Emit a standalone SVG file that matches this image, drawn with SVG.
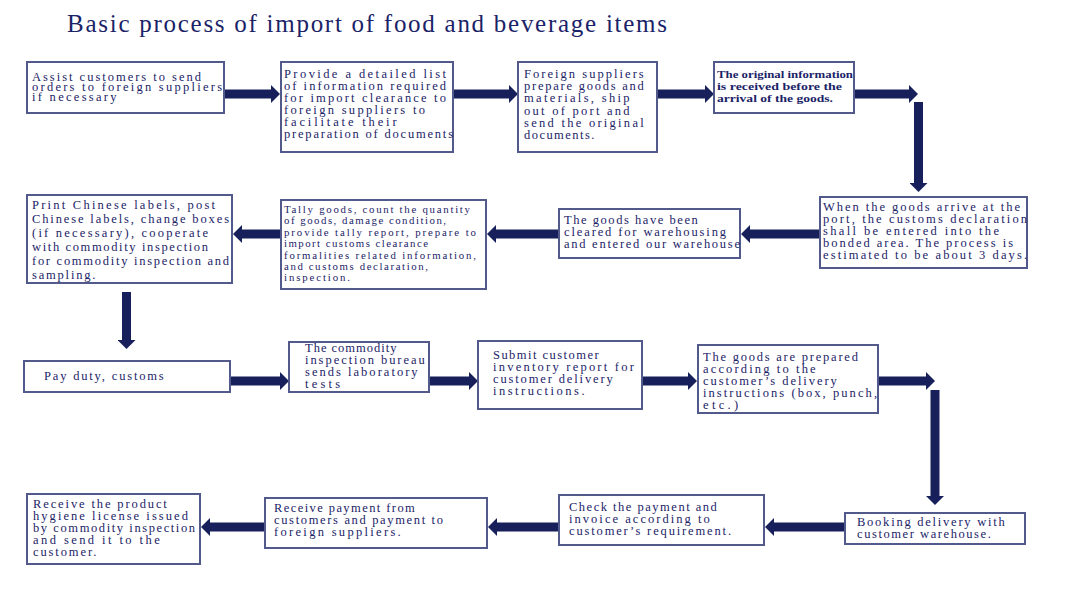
<svg xmlns="http://www.w3.org/2000/svg" width="1084" height="614" viewBox="0 0 1084 614">
<style>
.box{fill:#ffffff;stroke:#525a8b;stroke-width:2}
.t{font-family:"Liberation Serif","DejaVu Serif",serif;font-size:12.5px;fill:#1b2367}
.s{font-family:"Liberation Serif","DejaVu Serif",serif;font-size:10.8px;fill:#1b2367}
.b{font-family:"Liberation Serif","DejaVu Serif",serif;font-size:10.5px;font-weight:bold;fill:#1b2367}
.title{font-family:"Liberation Serif","DejaVu Serif",serif;font-size:25px;fill:#1b2367}
.c{stroke:#17205a;stroke-width:9;fill:none;marker-end:url(#ah)}
</style>
<defs>
<marker id="ah" markerUnits="userSpaceOnUse" viewBox="0 0 9 18" markerWidth="9" markerHeight="18" refX="0" refY="9" orient="auto">
<path d="M0,0 L9,9 L0,18 z" fill="#17205a"/>
</marker>
</defs>
<rect width="1084" height="614" fill="#ffffff"/>
<text class="title" x="67" y="32" textLength="600" lengthAdjust="spacing">Basic process of import of food and beverage items</text>

<g id="connectors">
<line class="c" x1="224" y1="94" x2="271" y2="94"/>
<line class="c" x1="453" y1="94" x2="509" y2="94"/>
<line class="c" x1="657" y1="94" x2="705" y2="94"/>
<line class="c" x1="854" y1="94" x2="909" y2="94"/>
<line class="c" x1="918.5" y1="102" x2="918.5" y2="183"/>
<line class="c" x1="820" y1="234" x2="750" y2="234"/>
<line class="c" x1="559" y1="234" x2="496" y2="234"/>
<line class="c" x1="281" y1="234" x2="242" y2="234"/>
<line class="c" x1="126.5" y1="292" x2="126.5" y2="340"/>
<line class="c" x1="230" y1="381" x2="280" y2="381"/>
<line class="c" x1="429" y1="381" x2="469" y2="381"/>
<line class="c" x1="642" y1="381" x2="688" y2="381"/>
<line class="c" x1="878" y1="381" x2="926" y2="381"/>
<line class="c" x1="935" y1="390" x2="935" y2="496"/>
<line class="c" x1="845" y1="527" x2="774" y2="527"/>
<line class="c" x1="559" y1="527" x2="497" y2="527"/>
<line class="c" x1="265" y1="527" x2="210" y2="527"/>
</g>

<g id="n1">
<rect class="box" x="27" y="62" width="197" height="51"/>
<text class="t" x="32" y="80.5" textLength="169" lengthAdjust="spacing">Assist customers to send</text>
<text class="t" x="32" y="90.5" textLength="190" lengthAdjust="spacing">orders to foreign suppliers</text>
<text class="t" x="32" y="100.5" textLength="84.5" lengthAdjust="spacing">if necessary</text>
</g>
<g id="n2">
<rect class="box" x="281" y="62" width="172" height="90"/>
<text class="t" x="284" y="78" textLength="162" lengthAdjust="spacing">Provide a detailed list</text>
<text class="t" x="284" y="90" textLength="162" lengthAdjust="spacing">of information required</text>
<text class="t" x="284" y="102" textLength="162" lengthAdjust="spacing">for import clearance to</text>
<text class="t" x="284" y="114" textLength="141" lengthAdjust="spacing">foreign suppliers to</text>
<text class="t" x="284" y="126" textLength="112.6" lengthAdjust="spacing">facilitate their</text>
<text class="t" x="284" y="138" textLength="169" lengthAdjust="spacing">preparation of documents</text>
</g>
<g id="n3">
<rect class="box" x="518" y="62" width="139" height="90"/>
<text class="t" x="524" y="78" textLength="119.7" lengthAdjust="spacing">Foreign suppliers</text>
<text class="t" x="524" y="90.2" textLength="119.7" lengthAdjust="spacing">prepare goods and</text>
<text class="t" x="524" y="102.4" textLength="105.6" lengthAdjust="spacing">materials, ship</text>
<text class="t" x="524" y="114.6" textLength="105.6" lengthAdjust="spacing">out of port and</text>
<text class="t" x="524" y="126.8" textLength="119.7" lengthAdjust="spacing">send the original</text>
<text class="t" x="524" y="139" textLength="70.4" lengthAdjust="spacing">documents.</text>
</g>
<g id="n4">
<rect class="box" x="714" y="62" width="140" height="51"/>
<text class="b" x="717" y="78" textLength="136" lengthAdjust="spacingAndGlyphs">The original information</text>
<text class="b" x="717" y="90" textLength="125" lengthAdjust="spacingAndGlyphs">is received before the</text>
<text class="b" x="717" y="102" textLength="116" lengthAdjust="spacingAndGlyphs">arrival of the goods.</text>
</g>
<g id="n5">
<rect class="box" x="820" y="197" width="207" height="71"/>
<text class="t" x="823" y="211" textLength="197" lengthAdjust="spacing">When the goods arrive at the</text>
<text class="t" x="823" y="223" textLength="204" lengthAdjust="spacing">port, the customs declaration</text>
<text class="t" x="823" y="235" textLength="176" lengthAdjust="spacing">shall be entered into the</text>
<text class="t" x="823" y="247" textLength="190" lengthAdjust="spacing">bonded area. The process is</text>
<text class="t" x="823" y="259" textLength="204" lengthAdjust="spacing">estimated to be about 3 days.</text>
</g>
<g id="n6">
<rect class="box" x="559" y="209" width="181" height="49"/>
<text class="t" x="564" y="224" textLength="133.8" lengthAdjust="spacing">The goods have been</text>
<text class="t" x="564" y="236" textLength="162" lengthAdjust="spacing">cleared for warehousing</text>
<text class="t" x="564" y="248" textLength="176" lengthAdjust="spacing">and entered our warehouse</text>
</g>
<g id="n7">
<rect class="box" x="281" y="200" width="205" height="89"/>
<text class="s" x="284" y="213" textLength="186" lengthAdjust="spacing">Tally goods, count the quantity</text>
<text class="s" x="284" y="224.4" textLength="162" lengthAdjust="spacing">of goods, damage condition,</text>
<text class="s" x="284" y="235.8" textLength="192" lengthAdjust="spacing">provide tally report, prepare to</text>
<text class="s" x="284" y="247.2" textLength="144" lengthAdjust="spacing">import customs clearance</text>
<text class="s" x="284" y="258.6" textLength="192" lengthAdjust="spacing">formalities related information,</text>
<text class="s" x="284" y="270" textLength="144" lengthAdjust="spacing">and customs declaration,</text>
<text class="s" x="284" y="281.4" textLength="66" lengthAdjust="spacing">inspection.</text>
</g>
<g id="n8">
<rect class="box" x="27" y="195" width="205" height="88"/>
<text class="t" x="32" y="209" textLength="183" lengthAdjust="spacing">Print Chinese labels, post</text>
<text class="t" x="32" y="223" textLength="197" lengthAdjust="spacing">Chinese labels, change boxes</text>
<text class="t" x="32" y="237" textLength="176" lengthAdjust="spacing">(if necessary), cooperate</text>
<text class="t" x="32" y="251" textLength="176" lengthAdjust="spacing">with commodity inspection</text>
<text class="t" x="32" y="265" textLength="197" lengthAdjust="spacing">for commodity inspection and</text>
<text class="t" x="32" y="279" textLength="63.4" lengthAdjust="spacing">sampling.</text>
</g>
<g id="n9">
<rect class="box" x="24" y="361" width="206" height="31"/>
<text class="t" x="44" y="380" textLength="119.7" lengthAdjust="spacing">Pay duty, customs</text>
</g>
<g id="n10">
<rect class="box" x="289" y="342" width="140" height="50"/>
<text class="t" x="305" y="352" textLength="91.5" lengthAdjust="spacing">The commodity</text>
<text class="t" x="305" y="364" textLength="119.7" lengthAdjust="spacing">inspection bureau</text>
<text class="t" x="305" y="376" textLength="112.6" lengthAdjust="spacing">sends laboratory</text>
<text class="t" x="305" y="388" textLength="35.2" lengthAdjust="spacing">tests</text>
</g>
<g id="n11">
<rect class="box" x="478" y="341" width="164" height="68"/>
<text class="t" x="493" y="359" textLength="105.6" lengthAdjust="spacing">Submit customer</text>
<text class="t" x="493" y="371" textLength="140.8" lengthAdjust="spacing">inventory report for</text>
<text class="t" x="493" y="383" textLength="119.7" lengthAdjust="spacing">customer delivery</text>
<text class="t" x="493" y="395" textLength="91.5" lengthAdjust="spacing">instructions.</text>
</g>
<g id="n12">
<rect class="box" x="698" y="345" width="180" height="68"/>
<text class="t" x="703" y="361" textLength="154.9" lengthAdjust="spacing">The goods are prepared</text>
<text class="t" x="703" y="373" textLength="112.6" lengthAdjust="spacing">according to the</text>
<text class="t" x="703" y="385" textLength="133.8" lengthAdjust="spacing">customer’s delivery</text>
<text class="t" x="703" y="397" textLength="174" lengthAdjust="spacing">instructions (box, punch,</text>
<text class="t" x="703" y="409" textLength="35.2" lengthAdjust="spacing">etc.)</text>
</g>
<g id="n13">
<rect class="box" x="845" y="513" width="180" height="31"/>
<text class="t" x="857" y="526" textLength="147.8" lengthAdjust="spacing">Booking delivery with</text>
<text class="t" x="857" y="538" textLength="133.8" lengthAdjust="spacing">customer warehouse.</text>
</g>
<g id="n14">
<rect class="box" x="559" y="495" width="205" height="50"/>
<text class="t" x="569" y="511" textLength="147.8" lengthAdjust="spacing">Check the payment and</text>
<text class="t" x="569" y="523" textLength="140.8" lengthAdjust="spacing">invoice according to</text>
<text class="t" x="569" y="535" textLength="162" lengthAdjust="spacing">customer’s requirement.</text>
</g>
<g id="n15">
<rect class="box" x="265" y="498" width="222" height="50"/>
<text class="t" x="274" y="512" textLength="140.8" lengthAdjust="spacing">Receive payment from</text>
<text class="t" x="274" y="524" textLength="169" lengthAdjust="spacing">customers and payment to</text>
<text class="t" x="274" y="536" textLength="126.7" lengthAdjust="spacing">foreign suppliers.</text>
</g>
<g id="n16">
<rect class="box" x="27" y="494" width="173" height="70"/>
<text class="t" x="33" y="508" textLength="133.8" lengthAdjust="spacing">Receive the product</text>
<text class="t" x="33" y="520" textLength="154.9" lengthAdjust="spacing">hygiene license issued</text>
<text class="t" x="33" y="532" textLength="162" lengthAdjust="spacing">by commodity inspection</text>
<text class="t" x="33" y="544" textLength="126.7" lengthAdjust="spacing">and send it to the</text>
<text class="t" x="33" y="556" textLength="63.4" lengthAdjust="spacing">customer.</text>
</g>
</svg>
